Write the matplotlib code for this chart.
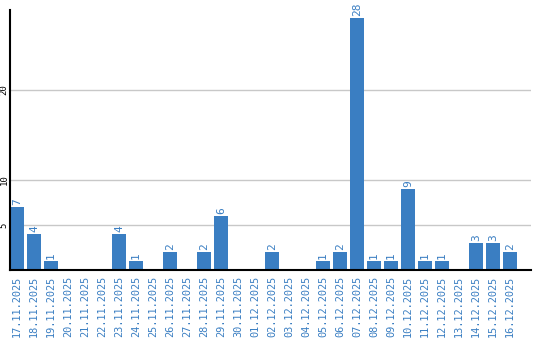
import matplotlib
matplotlib.use("Agg")
import matplotlib.pyplot as plt

dates = ["17.11.2025", "18.11.2025", "19.11.2025", "20.11.2025", "21.11.2025",
         "22.11.2025", "23.11.2025", "24.11.2025", "25.11.2025", "26.11.2025",
         "27.11.2025", "28.11.2025", "29.11.2025", "30.11.2025", "01.12.2025",
         "02.12.2025", "03.12.2025", "04.12.2025", "05.12.2025", "06.12.2025",
         "07.12.2025", "08.12.2025", "09.12.2025", "10.12.2025", "11.12.2025",
         "12.12.2025", "13.12.2025", "14.12.2025", "15.12.2025", "16.12.2025"]
counts = [7, 4, 1, 0, 0, 0, 4, 1, 0, 2, 0, 2, 6, 0, 0, 2, 0, 0, 1, 2,
          28, 1, 1, 9, 1, 1, 0, 3, 3, 2]
ytick_vals = [5, 10, 20]

bar_color = "#3a7ec2"
mono = "DejaVu Sans Mono"

fig = plt.figure(figsize=(5.4, 3.4), dpi=100)
ax = fig.add_axes([10 / 540, 70 / 340, 521 / 540, 260 / 340])

slot = 17.0
bw = 14 / slot
xs = list(range(len(counts)))
ax.bar(xs, counts, width=bw, align="edge", color=bar_color, zorder=2)

# value labels above bars (zero values skipped)
for x, v in zip(xs, counts):
    if v > 0:
        ax.text(x + bw / 2, v + 0.2, str(v), rotation=90, ha="center", va="bottom",
                color=bar_color, fontsize=8, family=mono)

ax.set_xlim(0, 521 / slot)
ax.set_ylim(0, 28.9)

ax.set_xticks([x + bw / 2 for x in xs])
ax.set_xticklabels(dates, rotation=90, color=bar_color, fontsize=7.4, family=mono)
ax.set_yticks(ytick_vals)
ax.set_yticklabels([str(v) for v in ytick_vals], rotation=90, va="center",
                   fontsize=6.5, family=mono)
ax.tick_params(axis="both", length=0)
ax.tick_params(axis="x", pad=4)
ax.tick_params(axis="y", pad=1)

ax.grid(axis="y", color="#c8c8c8", linewidth=1, zorder=0)
ax.set_axisbelow(True)

for side in ["top", "right"]:
    ax.spines[side].set_visible(False)
ax.spines["left"].set_linewidth(1.5)
ax.spines["bottom"].set_linewidth(1.5)

fig.savefig("out.png", dpi=100)
